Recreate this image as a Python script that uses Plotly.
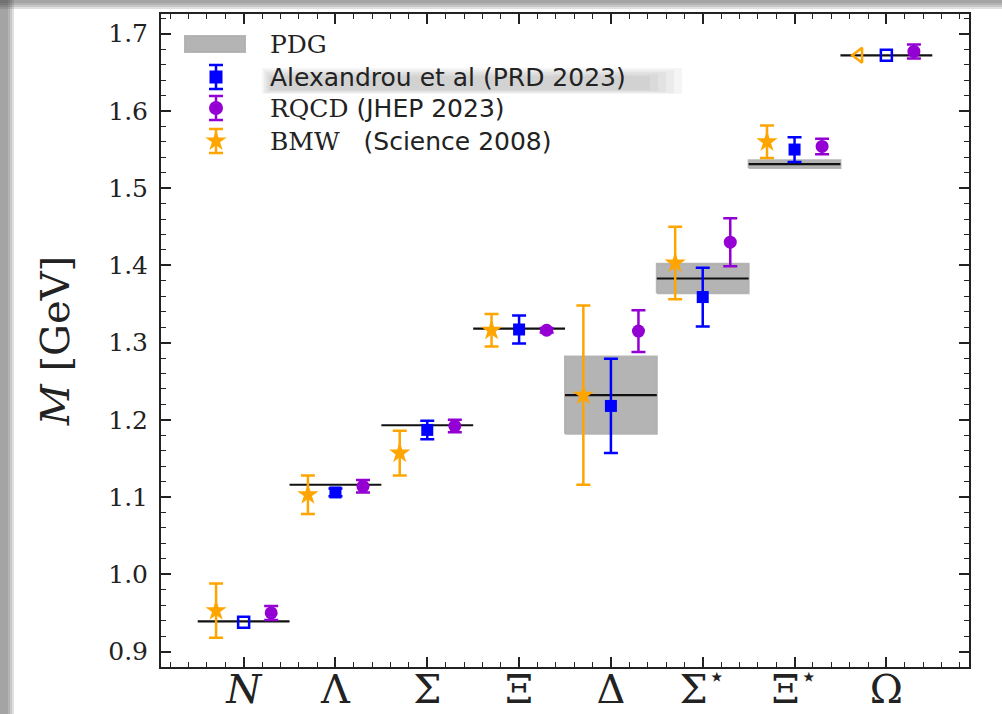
import plotly.graph_objects as go

# ---------------------------------------------------------------- data
baryons = ["N", "Λ", "Σ", "Ξ", "Δ", "Σ*", "Ξ*", "Ω"]
tick_text = ["<i>N</i>", "Λ", "Σ", "Ξ", "Δ", "Σ<sup>⋆</sup>", "Ξ<sup>⋆</sup>", "Ω"]

# PDG masses and the half-height of the experimental band (GeV)
pdg_mass = [0.939, 1.116, 1.193, 1.318, 1.232, 1.383, 1.531, 1.672]
pdg_band = [0.0, 0.0, 0.0, 0.0, 0.050, 0.019, 0.005, 0.0]

# Alexandrou et al (PRD 2023); N and Ω are used as inputs (no error)
alex_mass = [0.938, 1.106, 1.187, 1.317, 1.218, 1.359, 1.550, 1.672]
alex_err = [0.0, 0.005, 0.012, 0.018, 0.061, 0.038, 0.016, 0.0]
alex_input = [True, False, False, False, False, False, False, True]

# RQCD (JHEP 2023)
rqcd_mass = [0.950, 1.114, 1.192, 1.316, 1.315, 1.430, 1.554, 1.677]
rqcd_err = [0.009, 0.008, 0.008, 0.003, 0.027, 0.031, 0.010, 0.009]

# BMW (Science 2008); Ω is an input (no error)
bmw_mass = [0.953, 1.103, 1.157, 1.316, 1.232, 1.403, 1.560, 1.672]
bmw_err = [0.035, 0.025, 0.029, 0.021, 0.116, 0.047, 0.021, 0.0]
bmw_input = [False, False, False, False, False, False, False, True]

# ---------------------------------------------------------------- style
ORANGE = "#FFA500"
BLUE = "#0000FF"
PURPLE = "#9400D3"
SERIF = "DejaVu Serif"
SANS = "DejaVu Sans"
INK = "#222222"

W, H = 1002, 714
L, R, T, B = 161, 969, 14, 667          # plot box in pixels
HALF = 0.5                               # half-width of the PDG bands
SHIFT = 0.3                              # horizontal offset of each group


def px_x(px):
    return (px - L) / (R - L)


def px_y(py):
    return (B - py) / (B - T)


xpos = list(range(len(baryons)))

fig = go.Figure()

# PDG bands and central lines
for i, (m, h) in enumerate(zip(pdg_mass, pdg_band)):
    x = xpos[i]
    if h > 0:
        fig.add_trace(go.Scatter(
            x=[x - HALF, x + HALF, x + HALF, x - HALF, x - HALF],
            y=[m - h, m - h, m + h, m + h, m - h],
            mode="lines", fill="toself",
            fillcolor="rgba(140,140,140,0.65)",
            line=dict(color="rgba(175,175,175,0.9)", width=2),
            hoverinfo="skip", showlegend=False))
    fig.add_trace(go.Scatter(
        x=[x - HALF, x + HALF], y=[m, m], mode="lines",
        line=dict(color="#111111", width=2.2),
        hoverinfo="skip", showlegend=False))


def pick(values, flags, keep):
    return [v for v, f in zip(values, flags) if f == keep]


# BMW
bx = [x - SHIFT for x in xpos]
fig.add_trace(go.Scatter(
    x=pick(bx, bmw_input, False), y=pick(bmw_mass, bmw_input, False),
    error_y=dict(type="data", array=pick(bmw_err, bmw_input, False),
                 color=ORANGE, thickness=2.5, width=7),
    mode="markers", marker=dict(symbol="star", size=16, color=ORANGE),
    showlegend=False))
fig.add_trace(go.Scatter(
    x=pick(bx, bmw_input, True), y=pick(bmw_mass, bmw_input, True),
    mode="markers",
    marker=dict(symbol="triangle-left-open", size=13, color=ORANGE,
                line=dict(width=2.5, color=ORANGE)),
    showlegend=False))

# Alexandrou et al
fig.add_trace(go.Scatter(
    x=pick(xpos, alex_input, False), y=pick(alex_mass, alex_input, False),
    error_y=dict(type="data", array=pick(alex_err, alex_input, False),
                 color=BLUE, thickness=2.5, width=7),
    mode="markers", marker=dict(symbol="square", size=12, color=BLUE),
    showlegend=False))
fig.add_trace(go.Scatter(
    x=pick(xpos, alex_input, True), y=pick(alex_mass, alex_input, True),
    mode="markers",
    marker=dict(symbol="square-open", size=11, color=BLUE,
                line=dict(width=2.5, color=BLUE)),
    showlegend=False))

# RQCD
rx = [x + SHIFT for x in xpos]
fig.add_trace(go.Scatter(
    x=rx, y=rqcd_mass,
    error_y=dict(type="data", array=rqcd_err, color=PURPLE,
                 thickness=2.5, width=7),
    mode="markers", marker=dict(symbol="circle", size=13, color=PURPLE),
    showlegend=False))

# ---------------------------------------------------------------- legend
key_x = px_x(216)
key_err = 12 / (B - T)
legend_rows = [
    (BLUE, "square", 13, 77),
    (PURPLE, "circle", 14, 108),
    (ORANGE, "star", 16, 141),
]
for col, sym, size, py in legend_rows:
    fig.add_trace(go.Scatter(
        x=[key_x], y=[px_y(py)], xaxis="x2", yaxis="y2",
        error_y=dict(type="data", array=[key_err], color=col,
                     thickness=2.5, width=7),
        mode="markers", marker=dict(symbol=sym, size=size, color=col),
        hoverinfo="skip", showlegend=False))

shapes = []
# PDG key patch
shapes.append(dict(type="rect", xref="paper", yref="paper",
                   x0=px_x(185), x1=px_x(245), y0=px_y(52), y1=px_y(36),
                   fillcolor="rgba(140,140,140,0.65)",
                   line=dict(color="rgba(175,175,175,0.9)", width=2),
                   layer="above"))
# soft grey glow behind the Alexandrou label
for k in range(5):
    shapes.append(dict(type="rect", xref="paper", yref="paper",
                       x0=px_x(262 + 2 * k), x1=px_x(682 - 8 * k),
                       y0=px_y(94 - k), y1=px_y(68 + 2 * k),
                       fillcolor="rgba(110,110,110,0.07)", line=dict(width=0),
                       layer="below"))

# card shadow along the left and top edges of the figure
for k, a in enumerate([0.16, 0.15, 0.14, 0.12]):
    shapes.append(dict(type="rect", xref="paper", yref="paper",
                       x0=px_x(0), x1=px_x(14 - 2 * k),
                       y0=px_y(H), y1=px_y(0),
                       fillcolor=f"rgba(60,60,60,{a})", line=dict(width=0),
                       layer="below"))
    shapes.append(dict(type="rect", xref="paper", yref="paper",
                       x0=px_x(0), x1=px_x(W),
                       y0=px_y(9 - 2 * k), y1=px_y(0),
                       fillcolor=f"rgba(60,60,60,{a})", line=dict(width=0),
                       layer="below"))

annotations = [
    dict(text="PDG", x=px_x(268), y=px_y(44)),
    dict(text=f"<span style='font-family:{SANS}'>Alexandrou et al (PRD 2023)</span>",
         x=px_x(268), y=px_y(77)),
    dict(text=f"RQCD <span style='font-family:{SANS}'>(JHEP 2023)</span>",
         x=px_x(268), y=px_y(108)),
    dict(text=f"BMW&nbsp;&nbsp; <span style='font-family:{SANS}'>(Science 2008)</span>",
         x=px_x(268), y=px_y(141)),
]
for a in annotations:
    a.update(xref="paper", yref="paper", xanchor="left", yanchor="middle",
             showarrow=False, font=dict(family=SERIF, size=25, color=INK))

axis_common = dict(
    showline=True, linecolor=INK, linewidth=2, mirror="allticks",
    ticks="inside", tickcolor=INK, tickwidth=1.6, ticklen=10,
    showgrid=False, zeroline=False, automargin=False,
)

fig.update_layout(
    width=W, height=H,
    margin=dict(l=L, r=W - R, t=T, b=H - B),
    paper_bgcolor="white", plot_bgcolor="white",
    showlegend=False,
    shapes=shapes, annotations=annotations,
    xaxis=dict(
        range=[-0.9, 7.9], tickmode="array", tickvals=xpos, ticktext=tick_text,
        tickfont=dict(family=SERIF, size=40, color=INK),
        ticklabelstandoff=-14,
        minor=dict(tickmode="linear", tick0=0, dtick=0.2, ticks="inside",
                   ticklen=5, tickwidth=1.4, tickcolor=INK),
        **axis_common),
    yaxis=dict(
        range=[0.88, 1.7255], tickmode="linear", tick0=0.9, dtick=0.1,
        tickformat=".1f",
        tickfont=dict(family=SERIF, size=25, color=INK),
        ticklabelstandoff=6,
        minor=dict(tickmode="linear", tick0=0.9, dtick=0.02, ticks="inside",
                   ticklen=5, tickwidth=1.4, tickcolor=INK),
        title=dict(text="<i>M</i> [GeV]", standoff=26,
                   font=dict(family=SERIF, size=40, color=INK)),
        **axis_common),
    xaxis2=dict(overlaying="x", range=[0, 1], visible=False),
    yaxis2=dict(overlaying="y", range=[0, 1], visible=False),
)

fig.write_html("out.html")
